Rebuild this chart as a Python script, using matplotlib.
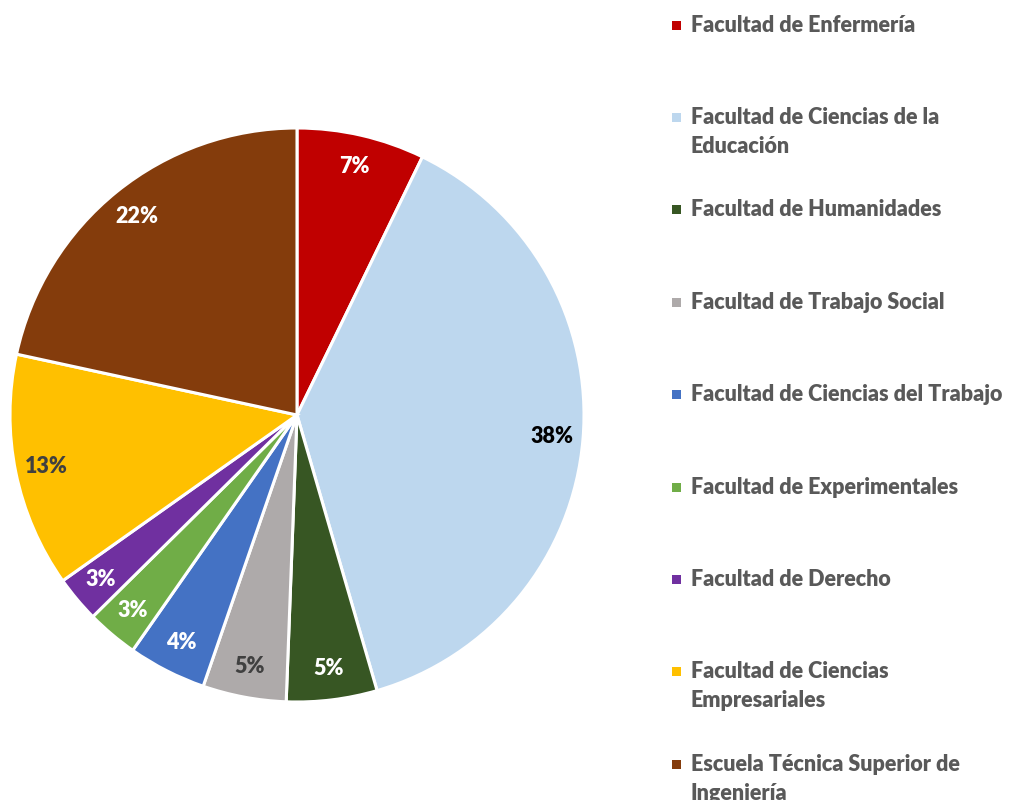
import matplotlib.pyplot as plt
from matplotlib.patches import Rectangle

# Share of each centre (percent)
labels = ['Facultad de Enfermería',
          'Facultad de Ciencias de la\nEducación',
          'Facultad de Humanidades',
          'Facultad de Trabajo Social',
          'Facultad de Ciencias del Trabajo',
          'Facultad de Experimentales',
          'Facultad de Derecho',
          'Facultad de Ciencias\nEmpresariales',
          'Escuela Técnica Superior de\nIngeniería']
values = [7.2, 38.3, 5.1, 4.7, 4.4, 2.9, 2.6, 13.2, 21.6]
colors = ['#C00000', '#BDD7EE', '#375623', '#AEAAAA', '#4472C4',
          '#70AD47', '#7030A0', '#FFC000', '#843C0C']
pct_colors = ['white', 'black', 'white', '#404040', 'white',
              'white', 'white', '#404040', 'white']

plt.rcParams['font.family'] = ['Lato', 'DejaVu Sans']

W, H = 1012, 800
fig = plt.figure(figsize=(W / 100, H / 100), dpi=100)

# pie centre (297, 415) px, radius 287 px
cx, cy, r = 297, 415, 287
ax = fig.add_axes([(cx - r) / W, (H - cy - r) / H, 2 * r / W, 2 * r / H])
wedges, texts, autotexts = ax.pie(values, colors=colors, startangle=90, counterclock=False,
                                  autopct='%.0f%%', pctdistance=0.89, radius=1,
                                  wedgeprops=dict(edgecolor='white', linewidth=2.2))
for t, c in zip(autotexts, pct_colors):
    t.set_color(c)
    t.set_fontsize(15.5)
    t.set_fontweight('heavy')
ax.set_xlim(-1, 1)
ax.set_ylim(-1, 1)

# legend drawn by hand to match the spacing of the original
y0, step, line_h = 25, 92.4, 29
for i, (lab, col) in enumerate(zip(labels, colors)):
    y = y0 + i * step
    fig.patches.append(Rectangle(((677 - 4.5) / W, 1 - (y + 4.5) / H), 9 / W, 9 / H,
                                 transform=fig.transFigure, facecolor=col, edgecolor='none'))
    for j, line in enumerate(lab.split('\n')):
        fig.text(691 / W, 1 - (y + j * line_h) / H, line, fontsize=15.5, fontweight='heavy',
                 color='#595959', ha='left', va='center')

fig.savefig('out.png', dpi=100)
